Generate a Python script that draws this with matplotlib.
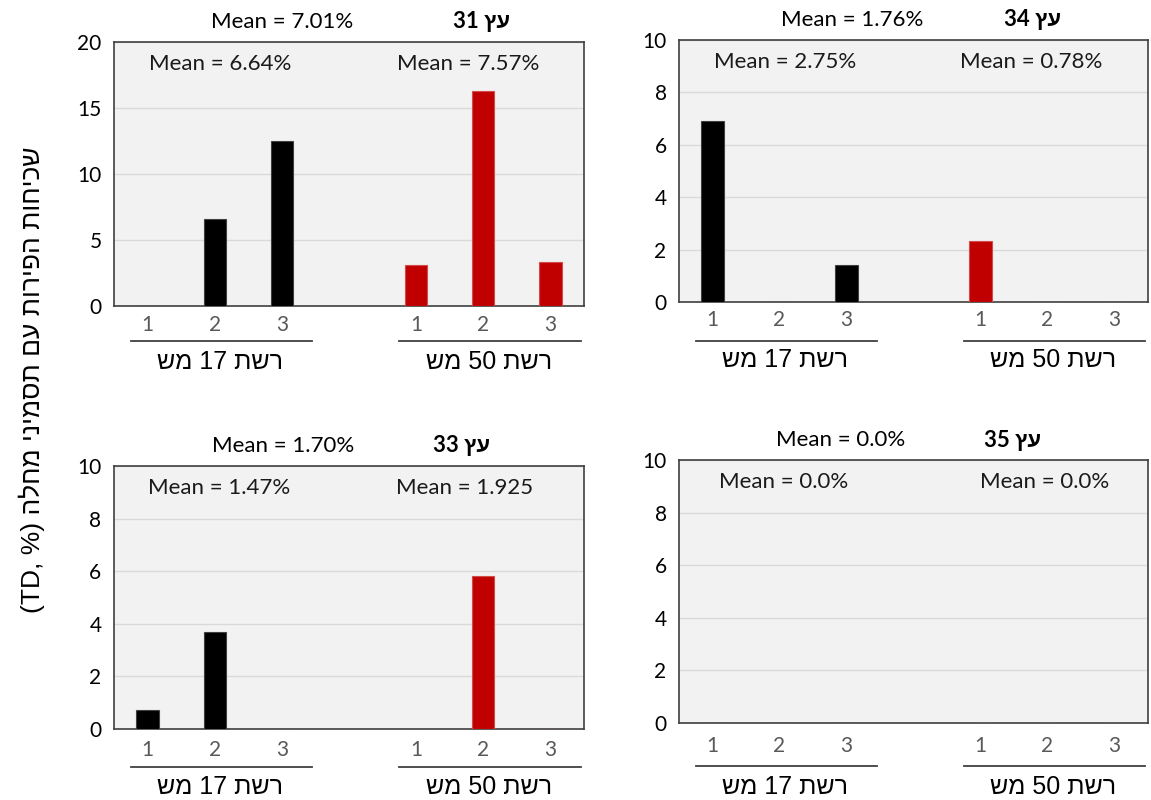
import re
import matplotlib
matplotlib.use("Agg")
import matplotlib.pyplot as plt
from matplotlib import transforms
from matplotlib.lines import Line2D

# ---------------- data ----------------
categories = ["1", "2", "3"]
group_labels = ["רשת 17 מש", "רשת 50 מש"]          # logical (RTL) order
tree_names = ["עץ 31", "עץ 34", "עץ 33", "עץ 35"]

tree31_mesh17 = [0.0, 6.6, 12.5]
tree31_mesh50 = [3.1, 16.3, 3.3]
tree34_mesh17 = [6.92, 0.0, 1.41]
tree34_mesh50 = [2.34, 0.0, 0.0]
tree33_mesh17 = [0.71, 3.70, 0.0]
tree33_mesh50 = [0.0, 5.80, 0.0]
tree35_mesh17 = [0.0, 0.0, 0.0]
tree35_mesh50 = [0.0, 0.0, 0.0]

overall_mean_labels = ["Mean = 7.01%", "Mean = 1.76%", "Mean = 1.70%", "Mean = 0.0%"]
mesh17_mean_labels = ["Mean = 6.64%", "Mean = 2.75%", "Mean = 1.47%", "Mean = 0.0%"]
mesh50_mean_labels = ["Mean = 7.57%", "Mean = 0.78%", "Mean = 1.925", "Mean = 0.0%"]

ylabel_hebrew = "שכיחות הפירות עם תסמיני מחלה"
ylabel_latin = "(TD, %)"

y_max = [20, 10, 10, 10]
y_step = [5, 2, 2, 2]

# ---------------- helpers ----------------
def visual(s):
    """Logical RTL string -> left-to-right visual order (digits kept)."""
    r = s[::-1]
    return re.sub(r"\d+", lambda m: m.group(0)[::-1], r)

# ---------------- layout ----------------
W, H = 1151, 800
fig = plt.figure(figsize=(W / 100, H / 100), dpi=100)

LATIN = ["Lato", "Liberation Sans", "DejaVu Sans"]
HEB = ["Liberation Sans", "DejaVu Sans"]

# axes boxes in pixels: left, top, right, bottom
boxes = [(114, 42, 584, 306), (679, 40, 1148, 302),
         (114, 466, 584, 729), (679, 460, 1148, 723)]
# text x positions (data units)
title_mean_x = [2.01, 2.09, 2.02, 1.91]
title_tree_x = [4.98, 4.78, 4.68, 4.48]
inner17_x = [1.08, 1.08, 1.06, 1.06]
inner50_x = [4.77, 4.75, 4.72, 4.96]
# offsets below axes (px): tick labels, line, group label
below = [(21, 35, 56), (21, 39, 58), (23, 38, 58), (26, 43, 64)]
line_spans = [(-0.25, 2.45), (3.75, 6.45)]
group_centers = [1.08, 5.08]

pos17 = [0, 1, 2]
pos50 = [4, 5, 6]
bar_w = 0.33

series17 = [tree31_mesh17, tree34_mesh17, tree33_mesh17, tree35_mesh17]
series50 = [tree31_mesh50, tree34_mesh50, tree33_mesh50, tree35_mesh50]

for i in range(4):
    l, t, r, b = boxes[i]
    ax = fig.add_axes([l / W, 1 - b / H, (r - l) / W, (b - t) / H])
    ax.set_facecolor("#f2f2f2")
    ax.set_axisbelow(True)
    ax.bar(pos17, series17[i], width=bar_w, color="#000000",
           edgecolor="#404040", linewidth=0.8, zorder=3)
    ax.bar(pos50, series50[i], width=bar_w, color="#c00000",
           edgecolor="#d34a4a", linewidth=0.8, zorder=3)
    ax.set_xlim(-0.5, 6.5)
    ax.set_ylim(0, y_max[i])
    ticks = list(range(0, y_max[i] + 1, y_step[i]))
    ax.set_yticks(ticks)
    ax.set_yticklabels([str(v) for v in ticks], fontsize=15, family=LATIN)
    ax.yaxis.grid(True, color="#d9d9d9", linewidth=1.0)
    ax.tick_params(axis="y", length=0, pad=9, colors="#000000")
    ax.set_xticks(pos17 + pos50)
    ax.set_xticklabels(categories + categories, fontsize=15, family=LATIN,
                       color="#595959")
    ax.tick_params(axis="x", length=0, pad=below[i][0] * 0.72 - 9)
    for s in ax.spines.values():
        s.set_color("#404040")
        s.set_linewidth(1.2)

    blend = transforms.blended_transform_factory(ax.transData, ax.transAxes)
    # group lines and labels
    for (x0, x1), gc, gl in zip(line_spans, group_centers, group_labels):
        off = blend + transforms.ScaledTranslation(0, -below[i][1] / 100, fig.dpi_scale_trans)
        ax.add_line(Line2D([x0, x1], [0, 0], transform=off, color="#404040",
                           linewidth=1.3, clip_on=False))
        offl = blend + transforms.ScaledTranslation(0, -below[i][2] / 100, fig.dpi_scale_trans)
        ax.text(gc, 0, visual(gl), transform=offl, ha="center", va="center",
                fontsize=18, family=HEB, color="#000000")

    # titles above
    up = blend + transforms.ScaledTranslation(0, 20 / 100, fig.dpi_scale_trans)
    ax.text(title_mean_x[i], 1, overall_mean_labels[i], transform=up,
            ha="center", va="center", fontsize=16, family=LATIN)
    ax.text(title_tree_x[i], 1, visual(tree_names[i]), transform=up,
            ha="center", va="center", fontsize=16, family=LATIN, fontweight="bold")
    # inner means
    dn = blend + transforms.ScaledTranslation(0, -22 / 100, fig.dpi_scale_trans)
    ax.text(inner17_x[i], 1, mesh17_mean_labels[i], transform=dn,
            ha="center", va="center", fontsize=16, family=LATIN, color="#1a1a1a")
    ax.text(inner50_x[i], 1, mesh50_mean_labels[i], transform=dn,
            ha="center", va="center", fontsize=16, family=LATIN, color="#1a1a1a")

fig.text(32 / W, 1 - 380 / H, ylabel_latin + " " + ylabel_hebrew[::-1],
         rotation=90, ha="center", va="center", fontsize=19, family=HEB)

fig.savefig("out.png", dpi=100, facecolor="white")
